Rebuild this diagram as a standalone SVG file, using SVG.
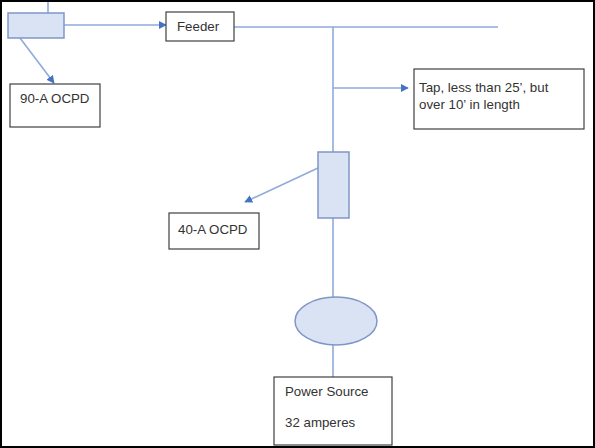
<svg xmlns="http://www.w3.org/2000/svg" width="595" height="448" viewBox="0 0 595 448">
<style>
.box{fill:#fff;stroke:#404040;stroke-width:1.2}
.comp{fill:#dae3f3;stroke:#7f96c9;stroke-width:1.5}
.ln{fill:none;stroke:#8faadc;stroke-width:1.6}
text{font-family:"Liberation Sans",Arial,sans-serif;font-size:13.3px;fill:#333}
</style>
<defs>
<marker id="ah" viewBox="0 0 10 10" refX="9" refY="5" markerWidth="5" markerHeight="5" orient="auto" markerUnits="strokeWidth">
<path d="M0,0 L10,5 L0,10 z" fill="#4472c4"/>
</marker>
</defs>
<rect x="0" y="0" width="595" height="448" fill="#fff"/>
<g id="connectors">
<line class="ln" x1="48" y1="0" x2="48" y2="13"/>
<line class="ln" x1="64" y1="25" x2="166" y2="25" marker-end="url(#ah)"/>
<line class="ln" x1="20" y1="38" x2="54" y2="83" marker-end="url(#ah)"/>
<line class="ln" x1="234" y1="27" x2="498" y2="27"/>
<line class="ln" x1="333" y1="27" x2="333" y2="152"/>
<line class="ln" x1="333" y1="88" x2="408" y2="88" marker-end="url(#ah)"/>
<line class="ln" x1="318" y1="168" x2="245" y2="202" marker-end="url(#ah)"/>
<line class="ln" x1="333" y1="218" x2="333" y2="297"/>
<line class="ln" x1="333" y1="345" x2="333" y2="377"/>
</g>
<g id="ocpd-top"><rect class="comp" x="8" y="13" width="56" height="25"/></g>
<g id="feeder"><rect class="box" x="166" y="12" width="68" height="29"/><text x="177" y="31">Feeder</text></g>
<g id="ocpd90"><rect class="box" x="10" y="84" width="90" height="43"/><text x="20" y="103">90-A OCPD</text></g>
<g id="tap"><rect class="box" x="414" y="69" width="170" height="60"/><text x="419" y="92">Tap, less than 25’, but</text><text x="419" y="109">over 10’ in length</text></g>
<g id="ocpd-mid"><rect class="comp" x="318" y="152" width="31" height="66"/></g>
<g id="ocpd40"><rect class="box" x="169" y="213" width="90" height="36"/><text x="178" y="234">40-A OCPD</text></g>
<g id="source"><ellipse class="comp" cx="336" cy="321" rx="41" ry="24"/></g>
<g id="power"><rect class="box" x="274" y="377" width="118" height="68"/><text x="285" y="396">Power Source</text><text x="285" y="427">32 amperes</text></g>
<rect x="1" y="1" width="593" height="446" fill="none" stroke="#000" stroke-width="2"/>
</svg>
